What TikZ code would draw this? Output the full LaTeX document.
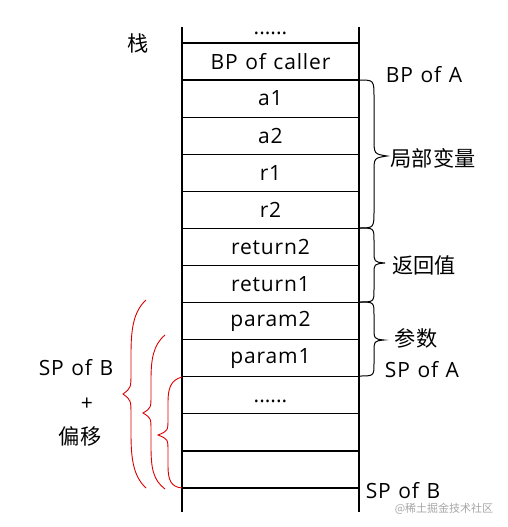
\documentclass[tikz,border=0pt]{standalone}
\usepackage{fontspec}
\setmainfont{Open Sans}[LetterSpace=4,WordSpace=1.2]
\newfontfamily\plainsans{Open Sans}
\newfontfamily\cjk{Noto Sans CJK SC}
\begin{document}
\begin{tikzpicture}[x=1pt,y=-1pt,
  font=\fontsize{21}{24}\selectfont,
  cell/.style={inner sep=0pt, anchor=center},
  dotcell/.style={inner sep=0pt, anchor=base, font=\plainsans\fontsize{21}{24}\selectfont},
  lbl/.style={inner sep=0pt, anchor=center},
  cjklbl/.style={inner sep=0pt, anchor=center, font=\cjk\fontsize{21.2}{24}\selectfont},
  stackline/.style={line width=1.3pt, draw=black},
  blackbrace/.style={line width=1pt, draw=black},
  redbrace/.style={line width=0.9pt, draw=red!85!black},
  wm/.style={inner sep=0pt, text=black!35, font=\cjk\fontsize{11}{13}\selectfont}]
\useasboundingbox (0,0) rectangle (507,527);
% stack frame
\draw[stackline] (182,27) -- (182,512);
\draw[stackline] (359,27) -- (359,512);
\foreach \i in {0,...,12}
  \draw[stackline] (182,{43+37.083*\i}) -- (359,{43+37.083*\i});
% cell texts
\node[dotcell] (dots1) at (270.5,35) {......};
\node[cell] (bpc) at (270.5,61.5) {BP of caller};
\node[cell] (a1) at (270.5,98.6) {a1};
\node[cell] (a2) at (270.5,135.7) {a2};
\node[cell] (r1) at (270.5,172.8) {r1};
\node[cell] (r2) at (270.5,209.9) {r2};
\node[cell] (ret2) at (270.5,246.9) {return2};
\node[cell] (ret1) at (270.5,284.0) {return1};
\node[cell] (p2) at (270.5,321.1) {param2};
\node[cell] (p1) at (270.5,358.2) {param1};
\node[dotcell] (dots2) at (270.5,402) {......};
% left labels
\node[cjklbl] (zhan) at (138,43) {栈};
\node[lbl] (spb) at (76,368) {SP of B};
\node[lbl] (plus) at (87,404) {+};
\node[cjklbl] (py) at (80,436) {偏移};
% right labels
\node[lbl] (bpa) at (424,75) {BP of A};
\node[cjklbl] (jbbl) at (433,158) {局部变量};
\node[cjklbl] (fhz) at (424,265) {返回值};
\node[cjklbl] (cs) at (416,338) {参数};
\node[lbl] (spa) at (422,370) {SP of A};
\node[lbl] (spb2) at (403,491) {SP of B};
\node[wm] (wmk) at (444,509) {@稀土掘金技术社区};
% right black braces
\draw[blackbrace] (359,80) .. controls (374,80) .. (374,98) -- (374,138)
  .. controls (374,154) .. (387,156) .. controls (374,158) .. (374,172)
  -- (374,210) .. controls (374,228) .. (359,228);
\draw[blackbrace] (359,228) .. controls (374,228) .. (374,241) -- (374,251)
  .. controls (374,262) .. (385,263) .. controls (374,264) .. (374,274)
  -- (374,289) .. controls (374,302) .. (359,302);
\draw[blackbrace] (359,302) .. controls (374,302) .. (374,315) -- (374,327)
  .. controls (374,339) .. (384,340) .. controls (374,341) .. (374,352)
  -- (374,363) .. controls (374,376) .. (359,376);
% left red braces
\draw[redbrace] (146,300) .. controls (133,312) and (131,330) .. (131,355)
  -- (131,372) .. controls (131,388) .. (123,394) .. controls (131,400) .. (131,416)
  -- (131,433) .. controls (131,458) and (133,476) .. (146,488);
\draw[redbrace] (165,335) .. controls (153,345) and (151,360) .. (151,380)
  -- (151,395) .. controls (151,408) .. (143,413) .. controls (151,418) .. (151,431)
  -- (151,446) .. controls (151,468) and (153,480) .. (165,489);
\draw[redbrace] (182,377) .. controls (170,380) and (168,390) .. (168,402)
  -- (168,418) .. controls (168,431) .. (158,435) .. controls (168,439) .. (168,452)
  -- (168,466) .. controls (168,480) and (171,487) .. (182,488);
\end{tikzpicture}
\end{document}
